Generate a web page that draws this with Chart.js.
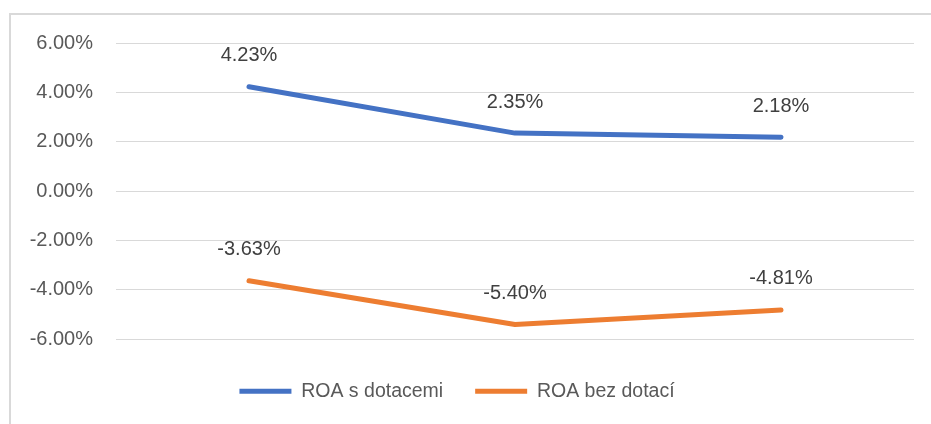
<!DOCTYPE html>
<html>
<head>
<meta charset="utf-8">
<title>ROA</title>
<script src="https://cdn.jsdelivr.net/npm/chart.js@4"></script>
<style>
  html, body { margin: 0; padding: 0; background: #fff; overflow: hidden; }
  #wrap { position: relative; width: 931px; height: 424px; }
  #frame { position: absolute; left: 9px; top: 13px; width: 960px; height: 460px;
           border-left: 2px solid #d9d9d9; border-top: 2px solid #d9d9d9; }
  #roaChart { position: absolute; left: 0; top: 0; }
</style>
</head>
<body>
<div id="wrap">
  <div id="frame"></div>
  <canvas id="roaChart" width="931" height="424"></canvas>
</div>
<script>
// data
const categories = ['1', '2', '3'];
const roaWithSubsidies = [4.23, 2.35, 2.18];
const roaWithoutSubsidies = [-3.63, -5.40, -4.81];
const seriesNames = ['ROA s dotacemi', 'ROA bez dotací'];
const yTicks = [-6, -4, -2, 0, 2, 4, 6];

const FONT = '"Liberation Sans", Arial, sans-serif';

// popisky hodnot nad body
const valueLabels = {
  id: 'valueLabels',
  afterDatasetsDraw(chart) {
    const ctx = chart.ctx;
    ctx.save();
    ctx.font = '20px ' + FONT;
    ctx.fillStyle = '#404040';
    ctx.textAlign = 'center';
    ctx.textBaseline = 'middle';
    chart.data.datasets.forEach((ds, i) => {
      chart.getDatasetMeta(i).data.forEach((pt, j) => {
        ctx.fillText(ds.data[j].toFixed(2) + '%', pt.x, pt.y - 31);
      });
    });
    ctx.restore();
  }
};

new Chart(document.getElementById('roaChart'), {
  type: 'line',
  data: {
    labels: categories,
    datasets: [{
      label: seriesNames[0],
      data: roaWithSubsidies,
      borderColor: '#4472C4',
      backgroundColor: '#4472C4',
      borderWidth: 5,
      borderCapStyle: 'round',
      borderJoinStyle: 'round',
      pointRadius: 0,
      tension: 0
    }, {
      label: seriesNames[1],
      data: roaWithoutSubsidies,
      borderColor: '#ED7D31',
      backgroundColor: '#ED7D31',
      borderWidth: 5,
      borderCapStyle: 'round',
      borderJoinStyle: 'round',
      pointRadius: 0,
      tension: 0
    }]
  },
  options: {
    responsive: false,
    animation: false,
    layout: { padding: { top: 43, right: 17, left: 0, bottom: 13 } },
    plugins: {
      legend: {
        position: 'bottom',
        // prazdny titulek jen kvuli mezere nad legendou
        title: { display: true, text: ' ', font: { size: 1 }, padding: { top: 9, bottom: 0 } },
        labels: {
          usePointStyle: true,
          pointStyle: 'line',
          pointStyleWidth: 52,
          padding: 32,
          color: '#595959',
          font: { family: FONT, size: 19.5 }
        }
      },
      tooltip: { enabled: false }
    },
    scales: {
      x: {
        display: false,
        offset: true
      },
      y: {
        min: -6,
        max: 6,
        afterBuildTicks: (scale) => { scale.ticks = yTicks.map(v => ({ value: v })); },
        afterFit: (scale) => { scale.width = 116; },
        border: { display: false },
        grid: { color: '#d9d9d9', lineWidth: 1, drawTicks: false },
        ticks: {
          padding: 23,
          color: '#595959',
          font: { family: FONT, size: 20 },
          callback: (v) => v.toFixed(2) + '%'
        }
      }
    }
  },
  plugins: [valueLabels]
});
</script>
</body>
</html>
